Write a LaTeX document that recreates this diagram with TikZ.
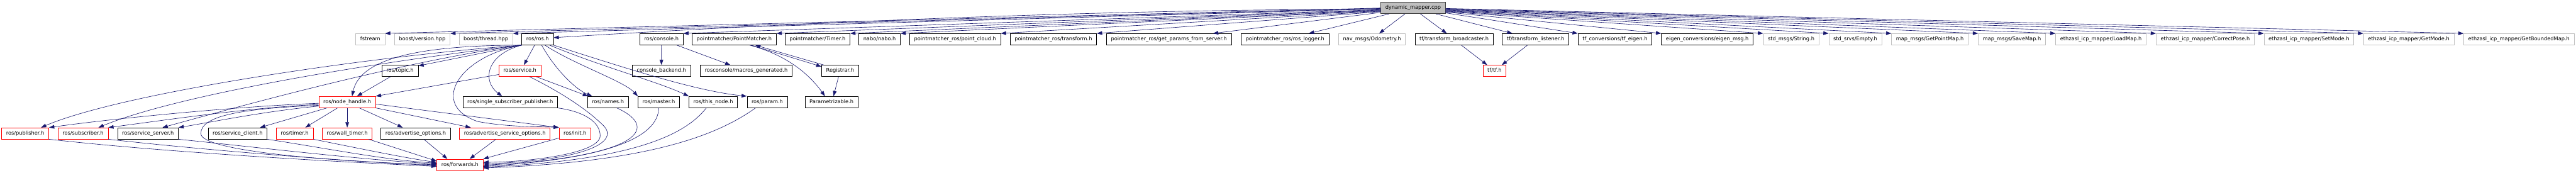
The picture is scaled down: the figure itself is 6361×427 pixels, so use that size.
\documentclass[tikz,border=0pt]{standalone}
\usepackage{fontspec}
\newfontfamily\dejavu{DejaVu Sans}
\usetikzlibrary{arrows.meta}
\definecolor{edgeblue}{HTML}{191970}
\definecolor{lightgr}{HTML}{BFBFBF}
\definecolor{dkgr}{HTML}{404040}
\definecolor{boxred}{HTML}{FF0000}
\tikzset{
  box/.style={draw=black, line width=0.5pt, fill=white, minimum height=14pt,
    inner xsep=5.6pt, inner ysep=0pt, text height=4.9pt, text depth=1.5pt,
    font=\dejavu\fontsize{6.4pt}{7.7pt}\selectfont, text=black},
  redbox/.style={box, draw=boxred},
  graybox/.style={box, draw=lightgr},
  mainbox/.style={box, draw=dkgr, fill=lightgr},
  incl/.style={draw=edgeblue, line width=0.5pt, -{Triangle[length=6.5pt,width=4.5pt]}}
}
\begin{document}
\begin{tikzpicture}[x=0.5pt,y=-0.5pt]
\useasboundingbox (0,0) rectangle (6361,427);
\fill[white] (0,0) rectangle (6361,427);
% row 0
\node[mainbox] (dm) at (3489.3,19.8) {dynamic\_mapper.cpp};
% row 1
\node[graybox] (fstream) at (914.5,97) {fstream};
\node[graybox] (bversion) at (1042.6,97) {boost/version.hpp};
\node[graybox] (bthread) at (1200,97) {boost/thread.hpp};
\node[box] (rosros) at (1327.5,97) {ros/ros.h};
\node[box] (console) at (1633.2,97) {ros/console.h};
\node[box] (pm) at (1813,97) {pointmatcher/PointMatcher.h};
\node[box] (pmtimer) at (2018.6,97) {pointmatcher/Timer.h};
\node[box] (nabo) at (2171.9,97) {nabo/nabo.h};
\node[box] (pcloud) at (2358.5,97) {pointmatcher\_ros/point\_cloud.h};
\node[box] (ptrans) at (2601.1,97) {pointmatcher\_ros/transform.h};
\node[box] (getparams) at (2886.6,97) {pointmatcher\_ros/get\_params\_from\_server.h};
\node[box] (roslogger) at (3173.1,97) {pointmatcher\_ros/ros\_logger.h};
\node[graybox] (odom) at (3388,97) {nav\_msgs/Odometry.h};
\node[box] (tfbc) at (3590.5,97) {tf/transform\_broadcaster.h};
\node[box] (tflis) at (3791.8,97) {tf/transform\_listener.h};
\node[box] (tfeigen) at (3987.9,97) {tf\_conversions/tf\_eigen.h};
\node[box] (eigenmsg) at (4215.8,97) {eigen\_conversions/eigen\_msg.h};
\node[graybox] (string) at (4422.9,97) {std\_msgs/String.h};
\node[graybox] (empty) at (4581.3,97) {std\_srvs/Empty.h};
\node[graybox] (getpointmap) at (4765.4,97) {map\_msgs/GetPointMap.h};
\node[graybox] (savemap) at (4968,97) {map\_msgs/SaveMap.h};
\node[graybox] (loadmap) at (5187.9,97) {ethzasl\_icp\_mapper/LoadMap.h};
\node[graybox] (correctpose) at (5445.4,97) {ethzasl\_icp\_mapper/CorrectPose.h};
\node[graybox] (setmode) at (5701.4,97) {ethzasl\_icp\_mapper/SetMode.h};
\node[graybox] (getmode) at (5948,97) {ethzasl\_icp\_mapper/GetMode.h};
\node[graybox] (getbounded) at (6220.1,97) {ethzasl\_icp\_mapper/GetBoundedMap.h};
% row 2
\node[box] (topic) at (987.9,175) {ros/topic.h};
\node[redbox] (service) at (1283.7,175) {ros/service.h};
\node[box] (cbackend) at (1633.3,175) {console\_backend.h};
\node[box] (macros) at (1842.6,175) {rosconsole/macros\_generated.h};
\node[box] (registrar) at (2074.6,175) {Registrar.h};
\node[redbox] (tftf) at (3690.4,175) {tf/tf.h};
% row 3
\node[redbox] (nodehandle) at (857.4,252) {ros/node\_handle.h};
\node[box] (ssp) at (1259.8,252) {ros/single\_subscriber\_publisher.h};
\node[box] (names) at (1501.2,252) {ros/names.h};
\node[box] (master) at (1626.7,252) {ros/master.h};
\node[box] (thisnode) at (1761.2,252) {ros/this\_node.h};
\node[box] (param) at (1894.6,252) {ros/param.h};
\node[box] (parametrizable) at (2053.2,252) {Parametrizable.h};
% row 4
\node[redbox] (publisher) at (62.3,329.3) {ros/publisher.h};
\node[redbox] (subscriber) at (205,329.3) {ros/subscriber.h};
\node[box] (sserver) at (365.2,329.3) {ros/service\_server.h};
\node[box] (sclient) at (586.7,329.3) {ros/service\_client.h};
\node[redbox] (rtimer) at (727.9,329.3) {ros/timer.h};
\node[redbox] (walltimer) at (857.4,329.3) {ros/wall\_timer.h};
\node[box] (advopt) at (1026.6,329.3) {ros/advertise\_options.h};
\node[redbox] (advsrvopt) at (1246.5,329.3) {ros/advertise\_service\_options.h};
\node[redbox] (init) at (1419.9,329.3) {ros/init.h};
% row 5
\node[redbox] (forwards) at (1135.8,406.7) {ros/forwards.h};

% dynamic_mapper.cpp -> row 1 (left)
\draw[incl] (dm.west) -- (fstream.north east);
\draw[incl] ([yshift=-0.5pt]dm.west) -- (bversion.north east);
\draw[incl] ([yshift=-1pt]dm.west) -- (bthread.north east);
\draw[incl] ([yshift=-1.5pt]dm.west) .. controls +(-800,0) and +(400,-25) .. ([yshift=2pt]rosros.east);
\draw[incl] ([yshift=-2pt]dm.west) -- (console.north east);
\draw[incl] ([yshift=-2.5pt]dm.west) -- (pm.north east);
\draw[incl] ([yshift=-3pt]dm.west) -- (pmtimer.north east);
\draw[incl] ([yshift=-3.5pt]dm.west) -- (nabo.north east);
\draw[incl] ([yshift=-4pt]dm.west) -- (pcloud.north east);
\draw[incl] ([yshift=-4.5pt]dm.west) -- (ptrans.north east);
\draw[incl] ([yshift=-5.5pt]dm.west) -- ([xshift=-23pt]getparams.north east);
\draw[incl] ([xshift=10.5pt]dm.south west) -- ([xshift=-25pt]roslogger.north east);
\draw[incl] ([xshift=-10pt]dm.south) -- ([xshift=8.8pt]odom.north);
\draw[incl] ([xshift=9pt]dm.south) -- ([xshift=-9pt]tfbc.north);
\draw[incl] ([xshift=-12pt]dm.south east) -- ([xshift=12.7pt]tflis.north west);
% dynamic_mapper.cpp -> row 1 (right)
\draw[incl] ([yshift=-6pt]dm.east) -- (tfeigen.north west);
\draw[incl] ([yshift=-5pt]dm.east) -- (eigenmsg.north west);
\draw[incl] ([yshift=-4.5pt]dm.east) -- (string.north west);
\draw[incl] ([yshift=-4pt]dm.east) -- (empty.north west);
\draw[incl] ([yshift=-3.5pt]dm.east) -- (getpointmap.north west);
\draw[incl] ([yshift=-3pt]dm.east) -- (savemap.north west);
\draw[incl] ([yshift=-2.5pt]dm.east) -- (loadmap.north west);
\draw[incl] ([yshift=-2pt]dm.east) -- (correctpose.north west);
\draw[incl] ([yshift=-1.5pt]dm.east) -- (setmode.north west);
\draw[incl] ([yshift=-1pt]dm.east) -- (getmode.north west);
\draw[incl] ([yshift=-0.5pt]dm.east) -- (getbounded.north west);

% ros/ros.h
\draw[incl] (rosros.south west) -- ([yshift=-1pt]topic.north east);
\draw[incl] (rosros.south west) .. controls (1050,112) and (890,140) .. ([xshift=6pt]nodehandle.north);
\draw[incl] (rosros.south west) .. controls (900,140) and (300,230) .. ([xshift=19.5pt]publisher.north);
\draw[incl] (rosros.south west) .. controls (950,150) and (450,230) .. ([xshift=19pt]subscriber.north);
\draw[incl] (rosros.south west) .. controls (1000,150) and (600,260) .. ([xshift=18pt]sserver.north);
\draw[incl] ([xshift=-3.7pt]rosros.south) -- ([xshift=5pt]service.north);
\draw[incl] (rosros.south west) .. controls (1200,135) and (1190,200) .. ([xshift=-10pt]ssp.north);
\draw[incl] ([xshift=5pt]rosros.south) .. controls (1370,170) and (1420,220) .. ([xshift=-19.5pt]names.north);
\draw[incl] ([xshift=9pt]rosros.south) .. controls (1420,160) and (1540,200) .. (master.north west);
\draw[incl] ([xshift=-5pt]rosros.south east) .. controls (1500,170) and (1620,200) .. (thisnode.north west);
\draw[incl] (rosros.south east) .. controls (1550,170) and (1720,225) .. (param.north west);
\draw[incl] (rosros.south west) .. controls (1130,140) and (1060,260) .. (1180,300) .. controls (1260,315) and (1340,312) .. (init.north west);

% ros/node_handle.h
\draw[incl] ([yshift=-1.5pt]nodehandle.west) .. controls (600,262) and (300,290) .. (publisher.north east);
\draw[incl] ([yshift=-3pt]nodehandle.west) .. controls (620,265) and (420,295) .. (subscriber.north east);
\draw[incl] ([yshift=-5pt]nodehandle.west) .. controls (650,275) and (520,302) .. (sserver.north east);
\draw[incl] ([yshift=-4pt]nodehandle.west) .. controls (600,268) and (495,285) .. (496,330) .. controls (497,375) and (850,400) .. (forwards.west);
\draw[incl] ([xshift=-25pt]nodehandle.south) -- ([xshift=-9pt]sclient.north east);
\draw[incl] ([xshift=-12pt]nodehandle.south) -- ([xshift=13pt]rtimer.north);
\draw[incl] (nodehandle.south) -- (walltimer.north);
\draw[incl] ([xshift=15pt]nodehandle.south) -- ([xshift=-16pt]advopt.north);
\draw[incl] (nodehandle.south east) -- ([xshift=-42pt]advsrvopt.north);
\draw[incl] ([yshift=-2.5pt]nodehandle.east) -- (init.north west);

% topic, service
\draw[incl] ([xshift=-12pt]topic.south) -- ([xshift=12pt]nodehandle.north);
\draw[incl] ([yshift=-4.5pt]service.west) -- (nodehandle.north east);
\draw[incl] ([xshift=-6pt]service.south east) -- ([xshift=1pt]names.north west);
\draw[incl] ([xshift=12pt]service.south) .. controls (1370,220) and (1445,265) .. (1490,310) .. controls (1530,350) and (1450,395) .. ([yshift=1pt]forwards.east);

% -> ros/forwards.h (right side)
\draw[incl] (ssp.south east) .. controls (1440,275) and (1482,300) .. (1482,335) .. controls (1482,380) and (1300,400) .. ([yshift=3pt]forwards.east);
\draw[incl] ([xshift=11pt]names.south) .. controls (1640,320) and (1560,390) .. ([yshift=-0.5pt]forwards.east);
\draw[incl] (master.south) .. controls (1625,340) and (1500,392) .. ([yshift=-2pt]forwards.east);
\draw[incl] ([xshift=-8.5pt]thisnode.south) .. controls (1690,335) and (1560,395) .. ([yshift=-3pt]forwards.east);
\draw[incl] ([xshift=-14.5pt]param.south) .. controls (1770,335) and (1600,400) .. ([yshift=-4pt]forwards.east);

% -> ros/forwards.h (left and top)
\draw[incl] (publisher.south east) .. controls (400,375) and (800,398) .. ([yshift=-2pt]forwards.west);
\draw[incl] (subscriber.south east) .. controls (500,370) and (850,398) .. ([yshift=-1pt]forwards.west);
\draw[incl] (sserver.south east) .. controls (600,360) and (900,395) .. ([yshift=1pt]forwards.west);
\draw[incl] (sclient.south east) .. controls (800,365) and (950,395) .. ([yshift=2pt]forwards.west);
\draw[incl] (rtimer.south east) .. controls (880,365) and (1000,390) .. ([yshift=3pt]forwards.west);
\draw[incl] ([xshift=-4.5pt]walltimer.south east) -- ([yshift=4.5pt]forwards.west);
\draw[incl] ([xshift=10pt]advopt.south) -- ([xshift=-15.5pt]forwards.north);
\draw[incl] ([xshift=-11pt]advsrvopt.south) -- ([xshift=12pt]forwards.north);
\draw[incl] ([yshift=1.5pt]init.south west) -- (forwards.north east);

% console, pointmatcher, tf
\draw[incl] (console.south) -- (cbackend.north);
\draw[incl] ([xshift=19pt]console.south) -- ([xshift=-19.5pt]macros.north);
\draw[incl] ([xshift=21pt]pm.south) -- ([yshift=-2pt]registrar.north west);
\draw[incl] ([xshift=3pt]registrar.north west) -- ([xshift=26pt]pm.south);
\draw[incl] ([xshift=19pt]pm.south) .. controls (1960,140) and (2010,200) .. ([xshift=-8pt]parametrizable.north);
\draw[incl] ([xshift=-2pt]registrar.south) -- ([xshift=2.5pt]parametrizable.north);
\draw[incl] ([xshift=9pt]tfbc.south) -- ([xshift=-9pt]tftf.north);
\draw[incl] ([xshift=-10pt]tflis.south) -- ([xshift=9pt]tftf.north);
\end{tikzpicture}
\end{document}
